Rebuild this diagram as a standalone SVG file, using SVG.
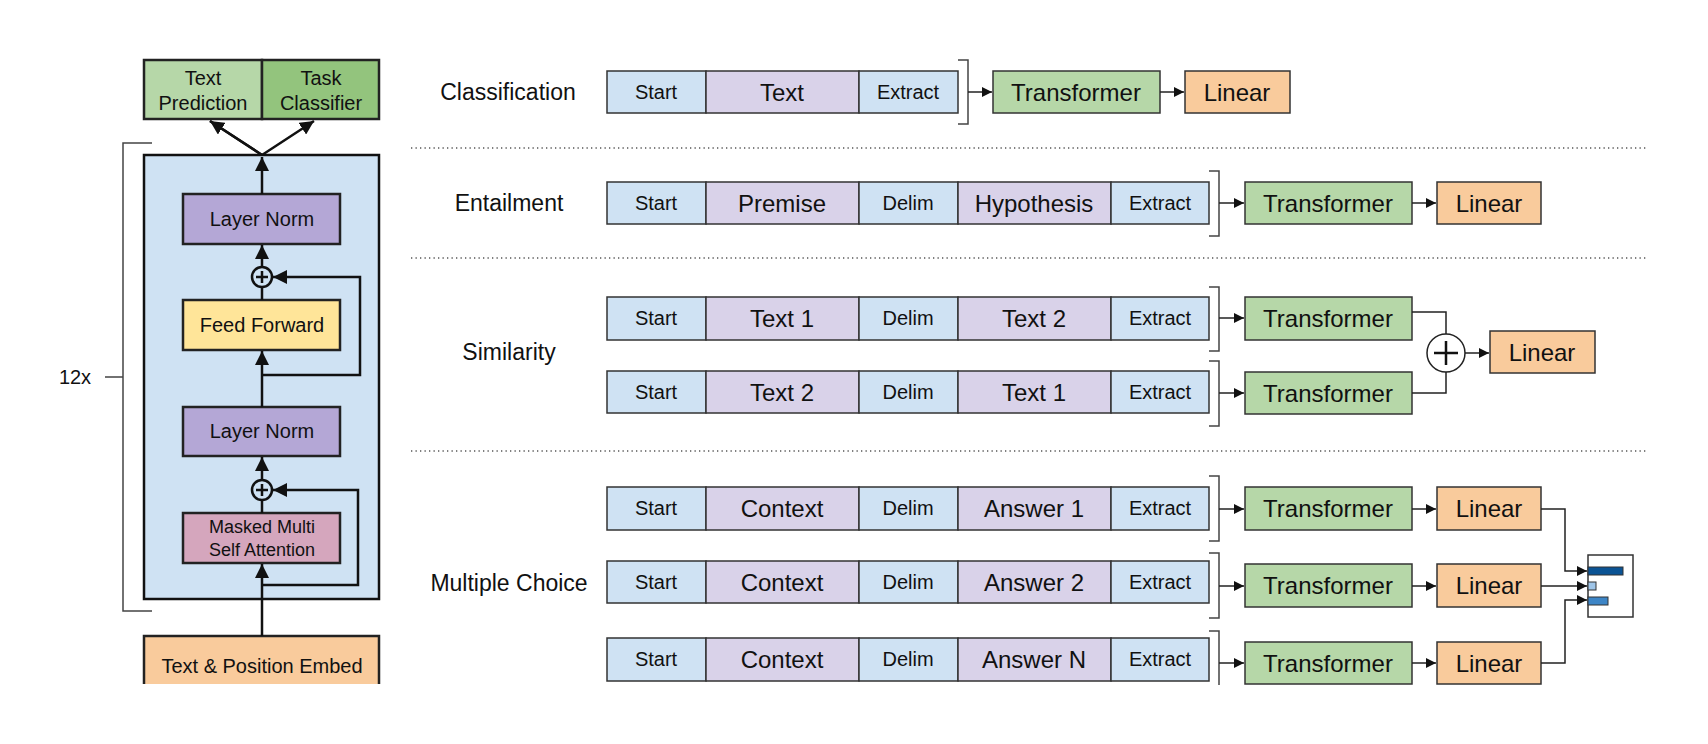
<svg xmlns="http://www.w3.org/2000/svg" width="1708" height="744" viewBox="0 0 1708 744">
<style>
text{font-family:"Liberation Sans",Arial,sans-serif;fill:#111;text-anchor:middle;dominant-baseline:central}
.b{fill:#cfe2f3;stroke:#333;stroke-width:1.5}
.p{fill:#d9d2e9;stroke:#333;stroke-width:1.5}
.g{fill:#b6d7a8;stroke:#333;stroke-width:1.5}
.o{fill:#f9cb9c;stroke:#333;stroke-width:1.5}
.s{font-size:20px}
.m{font-size:24px}
.lbl{font-size:23px}
.ln{fill:none;stroke:#222;stroke-width:1.5}
.lk{fill:none;stroke:#111;stroke-width:2.5}
.dot{stroke:#555;stroke-width:1.3;stroke-dasharray:1.3 3.2}
.br{fill:none;stroke:#444;stroke-width:1.5}
.L{fill:#111;stroke:#111;stroke-width:2.5}
</style>
<defs>
<marker id="a" viewBox="0 0 10 10" refX="10" refY="5" markerWidth="12" markerHeight="10" markerUnits="userSpaceOnUse" orient="auto"><path d="M0,0L10,5L0,10z" fill="#111"/></marker>
<marker id="A" viewBox="0 0 10 10" refX="10" refY="5" markerWidth="14" markerHeight="14" markerUnits="userSpaceOnUse" orient="auto"><path d="M0,0L10,5L0,10z" fill="#111"/></marker>
</defs>
<rect width="1708" height="744" fill="#fff"/>

<!-- Left panel -->
<g id="bracket12x">
<path class="br" d="M152,143H123V611H152M105,377H123"/>
<text x="75" y="377" class="s">12x</text>
</g>
<g id="textpred"><rect x="144" y="60" width="118" height="59" fill="#b6d7a8" stroke="#222" stroke-width="2.5"/><text x="203" y="78" class="s">Text</text><text x="203" y="103" class="s">Prediction</text></g>
<g id="taskcls"><rect x="262" y="60" width="117" height="59" fill="#93c47d" stroke="#222" stroke-width="2.5"/><text x="321" y="78" class="s">Task</text><text x="321" y="103" class="s">Classifier</text></g>
<g id="block"><rect x="144" y="155" width="235" height="444" fill="#cfe2f3" stroke="#111" stroke-width="2.5"/></g>
<g id="ln1"><rect x="183" y="194" width="157" height="50" fill="#b4a7d6" stroke="#222" stroke-width="2.5"/><text x="262" y="219" class="s">Layer Norm</text></g>
<g id="plus1"><circle cx="262" cy="277" r="10" fill="none" stroke="#111" stroke-width="2.5"/><path d="M256,277h12M262,271v12" stroke="#111" stroke-width="2.5"/></g>
<g id="ff"><rect x="183" y="300" width="157" height="50" fill="#ffe599" stroke="#222" stroke-width="2.5"/><text x="262" y="325" class="s">Feed Forward</text></g>
<g id="ln2"><rect x="183" y="407" width="157" height="49" fill="#b4a7d6" stroke="#222" stroke-width="2.5"/><text x="262" y="431" class="s">Layer Norm</text></g>
<g id="plus2"><circle cx="262" cy="490" r="10" fill="none" stroke="#111" stroke-width="2.5"/><path d="M256,490h12M262,484v12" stroke="#111" stroke-width="2.5"/></g>
<g id="mmsa"><rect x="183" y="513" width="157" height="50" fill="#d5a6bd" stroke="#222" stroke-width="2.5"/><text x="262" y="527" style="font-size:18px">Masked Multi</text><text x="262" y="550" style="font-size:18px">Self Attention</text></g>
<g id="embed"><path d="M144,684V636H379V684" fill="#f9cb9c" stroke="#222" stroke-width="2.5"/><text x="262" y="666" class="s">Text &amp; Position Embed</text></g>

<g id="left-connectors">
<path class="lk" d="M262,155L210,121M262,155L314,121" marker-end="url(#A)"/>
<path class="lk" d="M262,155L210,121" marker-end="url(#A)"/>
<path class="lk" d="M262,194V157" marker-end="url(#A)"/>
<path class="lk" d="M262,267V245" marker-end="url(#A)"/>
<path class="lk" d="M262,300V288"/>
<path class="lk" d="M262,407V351" marker-end="url(#A)"/>
<path class="lk" d="M262,375H360V277H273" marker-end="url(#A)"/>
<path class="lk" d="M262,480V457" marker-end="url(#A)"/>
<path class="lk" d="M262,513V501"/>
<path class="lk" d="M262,636V564" marker-end="url(#A)"/>
<path class="lk" d="M262,585H358V490H273" marker-end="url(#A)"/>
</g>

<!-- separators -->
<g id="separators">
<line class="dot" x1="411" y1="148" x2="1648" y2="148"/>
<line class="dot" x1="411" y1="258" x2="1648" y2="258"/>
<line class="dot" x1="411" y1="451" x2="1648" y2="451"/>
</g>

<!-- task labels -->
<text x="508" y="92" class="lbl">Classification</text>
<text x="509" y="203" class="lbl">Entailment</text>
<text x="509" y="352" class="lbl">Similarity</text>
<text x="509" y="583" class="lbl">Multiple Choice</text>

<!-- Classification -->
<g id="cls-seq">
<rect class="b" x="607" y="71" width="99" height="42"/><text x="656" y="92" class="s">Start</text>
<rect class="p" x="706" y="71" width="153" height="42"/><text x="782" y="92" class="m">Text</text>
<rect class="b" x="859" y="71" width="99" height="42"/><text x="908" y="92" class="s">Extract</text>
</g>
<g id="cls-tr"><rect class="g" x="993" y="71" width="167" height="42"/><text x="1076" y="92" class="m">Transformer</text></g>
<g id="cls-lin"><rect class="o" x="1185" y="71" width="105" height="42"/><text x="1237" y="92" class="m">Linear</text></g>

<!-- Entailment -->
<g id="ent-seq">
<rect class="b" x="607" y="182" width="99" height="42"/><text x="656" y="203" class="s">Start</text>
<rect class="p" x="706" y="182" width="153" height="42"/><text x="782" y="203" class="m">Premise</text>
<rect class="b" x="859" y="182" width="99" height="42"/><text x="908" y="203" class="s">Delim</text>
<rect class="p" x="958" y="182" width="153" height="42"/><text x="1034" y="203" class="m">Hypothesis</text>
<rect class="b" x="1111" y="182" width="98" height="42"/><text x="1160" y="203" class="s">Extract</text>
</g>
<g id="ent-tr"><rect class="g" x="1245" y="182" width="167" height="42"/><text x="1328" y="203" class="m">Transformer</text></g>
<g id="ent-lin"><rect class="o" x="1437" y="182" width="104" height="42"/><text x="1489" y="203" class="m">Linear</text></g>

<!-- Similarity -->
<g id="sim1-seq">
<rect class="b" x="607" y="297" width="99" height="43"/><text x="656" y="318" class="s">Start</text>
<rect class="p" x="706" y="297" width="153" height="43"/><text x="782" y="318" class="m">Text 1</text>
<rect class="b" x="859" y="297" width="99" height="43"/><text x="908" y="318" class="s">Delim</text>
<rect class="p" x="958" y="297" width="153" height="43"/><text x="1034" y="318" class="m">Text 2</text>
<rect class="b" x="1111" y="297" width="98" height="43"/><text x="1160" y="318" class="s">Extract</text>
</g>
<g id="sim2-seq">
<rect class="b" x="607" y="371" width="99" height="42"/><text x="656" y="392" class="s">Start</text>
<rect class="p" x="706" y="371" width="153" height="42"/><text x="782" y="392" class="m">Text 2</text>
<rect class="b" x="859" y="371" width="99" height="42"/><text x="908" y="392" class="s">Delim</text>
<rect class="p" x="958" y="371" width="153" height="42"/><text x="1034" y="392" class="m">Text 1</text>
<rect class="b" x="1111" y="371" width="98" height="42"/><text x="1160" y="392" class="s">Extract</text>
</g>
<g id="sim1-tr"><rect class="g" x="1245" y="297" width="167" height="43"/><text x="1328" y="318" class="m">Transformer</text></g>
<g id="sim2-tr"><rect class="g" x="1245" y="372" width="167" height="42"/><text x="1328" y="393" class="m">Transformer</text></g>
<g id="sim-plus"><circle cx="1446" cy="353" r="19" fill="#fff" stroke="#222" stroke-width="1.5"/><path d="M1434,353h24M1446,341v24" stroke="#111" stroke-width="2.5"/></g>
<g id="sim-lin"><rect class="o" x="1490" y="331" width="105" height="42"/><text x="1542" y="352" class="m">Linear</text></g>

<!-- Multiple Choice -->
<g id="mc1-seq">
<rect class="b" x="607" y="487" width="99" height="43"/><text x="656" y="508" class="s">Start</text>
<rect class="p" x="706" y="487" width="153" height="43"/><text x="782" y="508" class="m">Context</text>
<rect class="b" x="859" y="487" width="99" height="43"/><text x="908" y="508" class="s">Delim</text>
<rect class="p" x="958" y="487" width="153" height="43"/><text x="1034" y="508" class="m">Answer 1</text>
<rect class="b" x="1111" y="487" width="98" height="43"/><text x="1160" y="508" class="s">Extract</text>
</g>
<g id="mc2-seq">
<rect class="b" x="607" y="561" width="99" height="42"/><text x="656" y="582" class="s">Start</text>
<rect class="p" x="706" y="561" width="153" height="42"/><text x="782" y="582" class="m">Context</text>
<rect class="b" x="859" y="561" width="99" height="42"/><text x="908" y="582" class="s">Delim</text>
<rect class="p" x="958" y="561" width="153" height="42"/><text x="1034" y="582" class="m">Answer 2</text>
<rect class="b" x="1111" y="561" width="98" height="42"/><text x="1160" y="582" class="s">Extract</text>
</g>
<g id="mc3-seq">
<rect class="b" x="607" y="638" width="99" height="43"/><text x="656" y="659" class="s">Start</text>
<rect class="p" x="706" y="638" width="153" height="43"/><text x="782" y="659" class="m">Context</text>
<rect class="b" x="859" y="638" width="99" height="43"/><text x="908" y="659" class="s">Delim</text>
<rect class="p" x="958" y="638" width="153" height="43"/><text x="1034" y="659" class="m">Answer N</text>
<rect class="b" x="1111" y="638" width="98" height="43"/><text x="1160" y="659" class="s">Extract</text>
</g>
<g id="mc1-tr"><rect class="g" x="1245" y="487" width="167" height="43"/><text x="1328" y="508" class="m">Transformer</text></g>
<g id="mc2-tr"><rect class="g" x="1245" y="564" width="167" height="43"/><text x="1328" y="585" class="m">Transformer</text></g>
<g id="mc3-tr"><rect class="g" x="1245" y="642" width="167" height="42"/><text x="1328" y="663" class="m">Transformer</text></g>
<g id="mc1-lin"><rect class="o" x="1437" y="487" width="104" height="43"/><text x="1489" y="508" class="m">Linear</text></g>
<g id="mc2-lin"><rect class="o" x="1437" y="564" width="104" height="43"/><text x="1489" y="585" class="m">Linear</text></g>
<g id="mc3-lin"><rect class="o" x="1437" y="642" width="104" height="42"/><text x="1489" y="663" class="m">Linear</text></g>
<g id="mc-out">
<rect x="1588" y="555" width="45" height="62" fill="#fff" stroke="#333" stroke-width="1.5"/>
<rect x="1588" y="567" width="35" height="8" fill="#0b5394" stroke="#333" stroke-width="1"/>
<rect x="1588" y="582" width="8" height="8" fill="#9fc5e8" stroke="#333" stroke-width="1"/>
<rect x="1588" y="597" width="20" height="8" fill="#3d85c6" stroke="#333" stroke-width="1"/>
</g>

<!-- right connectors -->
<g id="connectors">
<path class="br" d="M958,60H968V124H958"/>
<path class="br" d="M1209,171H1219V236H1209"/>
<path class="br" d="M1209,287H1219V351H1209"/>
<path class="br" d="M1209,361H1219V426H1209"/>
<path class="br" d="M1209,476H1219V541H1209"/>
<path class="br" d="M1209,553H1219V618H1209"/>
<path class="br" d="M1209,631H1219V685"/>
<path class="ln" d="M968,92H992" marker-end="url(#a)"/>
<path class="ln" d="M1160,92H1184" marker-end="url(#a)"/>
<path class="ln" d="M1219,203H1244" marker-end="url(#a)"/>
<path class="ln" d="M1412,203H1436" marker-end="url(#a)"/>
<path class="ln" d="M1219,318H1244" marker-end="url(#a)"/>
<path class="ln" d="M1219,393H1244" marker-end="url(#a)"/>
<path class="ln" d="M1412,312H1446V334"/>
<path class="ln" d="M1412,393H1446V372"/>
<path class="ln" d="M1465,353H1489" marker-end="url(#a)"/>
<path class="ln" d="M1219,509H1244" marker-end="url(#a)"/>
<path class="ln" d="M1219,586H1244" marker-end="url(#a)"/>
<path class="ln" d="M1219,663H1244" marker-end="url(#a)"/>
<path class="ln" d="M1412,509H1436" marker-end="url(#a)"/>
<path class="ln" d="M1412,586H1436" marker-end="url(#a)"/>
<path class="ln" d="M1412,663H1436" marker-end="url(#a)"/>
<path class="ln" d="M1541,509H1565V571H1587" marker-end="url(#a)"/>
<path class="ln" d="M1541,586H1587" marker-end="url(#a)"/>
<path class="ln" d="M1541,663H1565V600H1587" marker-end="url(#a)"/>
</g>
</svg>
